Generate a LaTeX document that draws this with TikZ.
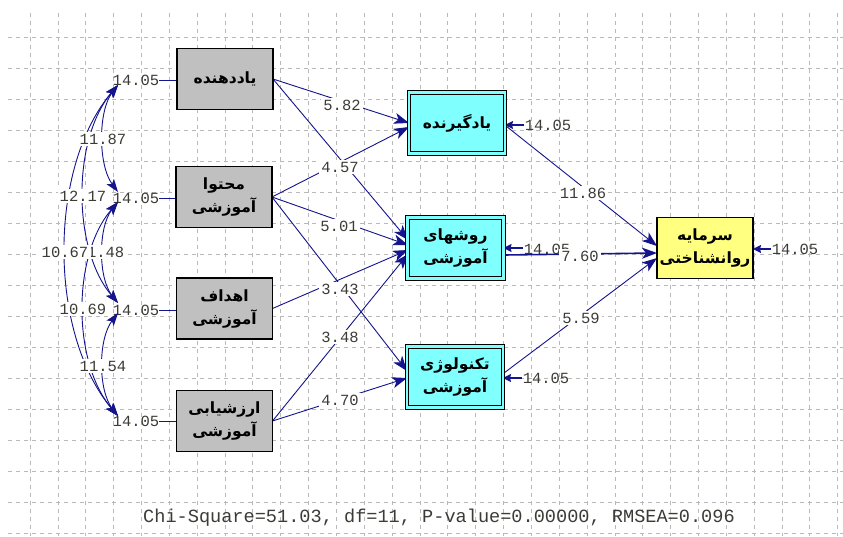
\documentclass[tikz,border=0pt]{standalone}
\usepackage{fontspec}
\usetikzlibrary{arrows.meta}
\TeXXeTstate=1
\newfontfamily\arabicfont[Script=Arabic]{DejaVu Sans}
\setmonofont{Liberation Mono}
\definecolor{navyline}{RGB}{20,20,140}
\definecolor{gridgray}{RGB}{185,185,185}
\definecolor{numgray}{RGB}{60,60,55}
\definecolor{boxgray}{RGB}{192,192,192}
\definecolor{boxcyan}{RGB}{128,255,255}
\definecolor{boxyellow}{RGB}{255,255,128}
\pgfdeclarelayer{gridlayer}
\pgfdeclarelayer{lower}
\pgfdeclarelayer{conn}
\pgfsetlayers{gridlayer,lower,conn,main}
\tikzset{
  gridline/.style={gridgray,line width=0.7pt,dash pattern=on 4pt off 4pt},
  basebox/.style={draw=black,line width=1.3pt,minimum width=96pt,minimum height=61pt,
    inner sep=0pt,outer sep=0pt,align=center,
    font=\arabicfont\bfseries\fontsize{15.5}{23}\selectfont},
  exobox/.style={basebox,fill=boxgray},
  endobox/.style={basebox,fill=boxcyan,line width=0.9pt,double=boxcyan,double distance=2.6pt},
  finalbox/.style={basebox,fill=boxyellow},
  numlab/.style={text=numgray,font=\ttfamily\fontsize{15.5}{16}\selectfont,inner sep=0pt},
  pathlab/.style={numlab,fill=white,inner xsep=2pt,inner ysep=2pt},
  pth/.style={navyline,line width=0.9pt,-{Stealth[length=15pt,width=11pt,inset=4pt]}},
  errarrow/.style={navyline,line width=1.6pt,-{Stealth[length=8pt,width=8pt,inset=1pt]}},
  errline/.style={navyline,line width=1pt},
  cov/.style={navyline,line width=0.9pt,{Stealth[length=13pt,width=9pt,inset=3pt]}-{Stealth[length=13pt,width=9pt,inset=3pt]}}
}
\begin{document}
\begin{tikzpicture}[x=1pt,y=-1pt]
\useasboundingbox (0,0) rectangle (843,536);
\begin{pgfonlayer}{gridlayer}
\fill[white] (0,0) rectangle (843,536);
\foreach \k in {0,...,29} \draw[gridline] ({30+27.85*\k},13) -- ({30+27.85*\k},536);
\foreach \k in {0,...,16} \draw[gridline] (8,{37.5+31*\k}) -- (843,{37.5+31*\k});
\end{pgfonlayer}

% boxes
\node[exobox] (x1) at (225,79) {\beginR یاددهنده\endR};
\node[exobox] (x2) at (224,197) {\beginR محتوا\endR\\\beginR آموزشی\endR};
\node[exobox] (x3) at (224.5,308.5) {\beginR اهداف\endR\\\beginR آموزشی\endR};
\node[exobox] (x4) at (224.5,421) {\beginR ارزشیابی\endR\\\beginR آموزشی\endR};
\node[endobox] (y1) at (457,123) {\beginR یادگیرنده\endR};
\node[endobox] (y2) at (455.5,248) {\beginR روشهای\endR\\\beginR آموزشی\endR};
\node[endobox] (y3) at (455,377) {\beginR تکنولوژی\endR\\\beginR آموزشی\endR};
\node[finalbox] (y4) at (705,248) {\beginR سرمایه\endR\\\beginR روانشناختی\endR};

% error labels
\begin{pgfonlayer}{lower}
\node[numlab] (ex1) at (136,80) {14.05};
\node[numlab] (ex2) at (136,198) {14.05};
\node[numlab] (ex3) at (136,310) {14.05};
\node[numlab] (ex4) at (136,421) {14.05};
\node[numlab] (ey1) at (548,125) {14.05};
\node[numlab] (ey2) at (547,249) {14.05};
\node[numlab] (ey3) at (546,378) {14.05};
\node[numlab] (ey4) at (795,249) {14.05};
\end{pgfonlayer}

% connector end points
\coordinate (t11) at (409,123);
\coordinate (t21) at (409,127);
\coordinate (t12) at (408,240);
\coordinate (t22) at (408,245);
\coordinate (t32) at (408,250);
\coordinate (t42) at (408,254);
\coordinate (t23) at (407,371);
\coordinate (t43) at (407,378);
\coordinate (s1) at (506,126);
\coordinate (s2) at (504,255);
\coordinate (s3) at (504,373);
\coordinate (u1) at (657,246);
\coordinate (u2) at (657,253);
\coordinate (u3) at (657,258);
\coordinate (c1b) at (118,85);
\coordinate (c2t) at (118,192);
\coordinate (c2b) at (118,202);
\coordinate (c3t) at (118,303);
\coordinate (c3b) at (118,313);
\coordinate (c4t) at (118,416);

\begin{pgfonlayer}{conn}
\draw[errline] (ex1.east) -- (ex1.east -| x1.west);
\draw[errline] (ex2.east) -- (ex2.east -| x2.west);
\draw[errline] (ex3.east) -- (ex3.east -| x3.west);
\draw[errline] (ex4.east) -- (ex4.east -| x4.west);
\draw[errarrow] ([xshift=-1pt]ey1.west) -- (ey1.west -| y1.east);
\draw[errarrow] ([xshift=-1pt,yshift=1pt]ey2.west) -- ([yshift=1pt]ey2.west -| y2.east);
\draw[errarrow] ([xshift=-1pt]ey3.west) -- (ey3.west -| y3.east);
\draw[errarrow] ([xshift=-1pt]ey4.west) -- (ey4.west -| y4.east);
% covariances
\draw[cov] (c1b) .. controls (98,111) and (98,165) .. (c2t);
\draw[cov] (c1b) .. controls (72,139) and (72,249) .. (c3t);
\draw[cov] (c1b) .. controls (48,167) and (48,333) .. (c4t);
\draw[cov] (c2b) .. controls (98,227) and (98,278) .. (c3t);
\draw[cov] (c2b) .. controls (72,255) and (72,362) .. (c4t);
\draw[cov] (c3b) .. controls (98,339) and (98,390) .. (c4t);
% structural paths
\draw[pth] (x1.east) -- (t11);
\draw[pth] (x1.east) -- (t12);
\draw[pth] (x2.east) -- (t21);
\draw[pth] (x2.east) -- (t22);
\draw[pth] (x2.east) -- (t23);
\draw[pth] (x3.east) -- (t32);
\draw[pth] (x4.east) -- (t42);
\draw[pth] (x4.east) -- (t43);
\draw[pth] (s1) -- (u1);
\draw[pth,line width=1.6pt] (s2) -- (u2);
\draw[pth] (s3) -- (u3);
\end{pgfonlayer}

% path labels
\node[pathlab] (l11) at (342,105) {5.82};
\node[pathlab] (l12) at (340,167) {4.57};
\node[pathlab] (l22) at (339,226) {5.01};
\node[pathlab] (l23) at (340,289) {3.43};
\node[pathlab] (l42) at (340,337) {3.48};
\node[pathlab] (l43) at (340,400) {4.70};
\node[pathlab] (ly1) at (583,193) {11.86};
\node[pathlab] (ly2) at (580,256) {7.60};
\node[pathlab] (ly3) at (581,318) {5.59};
% covariance labels
\node[pathlab] (k12) at (103,139) {11.87};
\node[pathlab] (k23) at (101,252) {11.48};
\node[pathlab] (k13) at (83,196) {12.17};
\node[pathlab,inner xsep=3pt] (k14) at (65,252) {10.67};
\node[pathlab] (k24) at (83,309) {10.69};
\node[pathlab] (k34) at (103,366) {11.54};

\node[text=numgray,font=\ttfamily\fontsize{18.6}{20}\selectfont,inner sep=0pt] (fit) at (439,518)
  {Chi-Square=51.03, df=11, P-value=0.00000, RMSEA=0.096};
\end{tikzpicture}
\end{document}
